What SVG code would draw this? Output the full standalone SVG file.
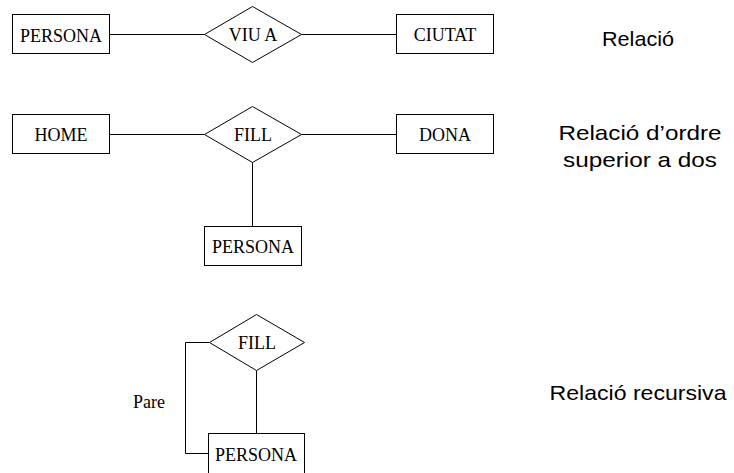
<svg xmlns="http://www.w3.org/2000/svg" width="734" height="473" viewBox="0 0 734 473">
  <style>
    .ent { fill: #ffffff; stroke: #000000; stroke-width: 1; }
    .rel { fill: #ffffff; stroke: #000000; stroke-width: 1; }
    .lbl { font-family: "Liberation Serif", "Times New Roman", serif; font-size: 18px; fill: #000000; text-anchor: middle; }
    .note { font-family: "Liberation Sans", Arial, sans-serif; font-size: 21px; fill: #000000; text-anchor: middle; }
    .conn { fill: none; stroke: #000000; stroke-width: 1; }
  </style>
  <rect width="734" height="473" fill="#ffffff"/>

  <!-- connectors -->
  <g id="connectors">
    <line class="conn" x1="109.5" y1="34.5" x2="204.5" y2="34.5"/>
    <line class="conn" x1="301.5" y1="34.5" x2="396.5" y2="34.5"/>
    <line class="conn" x1="109.5" y1="134.5" x2="204.5" y2="134.5"/>
    <line class="conn" x1="301.5" y1="134.5" x2="396.5" y2="134.5"/>
    <line class="conn" x1="252.5" y1="162.5" x2="252.5" y2="226.5"/>
    <line class="conn" x1="256.5" y1="370.5" x2="256.5" y2="433.5"/>
    <polyline class="conn" points="209.5,342.5 185.5,342.5 185.5,453.5 208.5,453.5"/>
  </g>

  <!-- binary relationship -->
  <g id="persona1">
    <rect class="ent" x="12.5" y="14.5" width="97" height="39"/>
    <text class="lbl" x="61" y="42">PERSONA</text>
  </g>
  <g id="viu-a">
    <polygon class="rel" points="252.5,6.5 301.5,34.5 252.5,62.5 204.5,34.5"/>
    <text class="lbl" x="253" y="41">VIU A</text>
  </g>
  <g id="ciutat">
    <rect class="ent" x="396.5" y="14.5" width="97" height="39"/>
    <text class="lbl" x="445" y="41">CIUTAT</text>
  </g>

  <!-- ternary relationship -->
  <g id="home">
    <rect class="ent" x="12.5" y="114.5" width="97" height="39"/>
    <text class="lbl" x="61" y="141">HOME</text>
  </g>
  <g id="fill1">
    <polygon class="rel" points="252.5,106.5 301.5,134.5 252.5,162.5 204.5,134.5"/>
    <text class="lbl" x="253" y="141">FILL</text>
  </g>
  <g id="dona">
    <rect class="ent" x="396.5" y="114.5" width="97" height="39"/>
    <text class="lbl" x="445" y="141">DONA</text>
  </g>
  <g id="persona2">
    <rect class="ent" x="204.5" y="226.5" width="97" height="39"/>
    <text class="lbl" x="253" y="253">PERSONA</text>
  </g>

  <!-- recursive relationship -->
  <g id="fill2">
    <polygon class="rel" points="256.5,314.5 304.5,342.5 256.5,370.5 209.5,342.5"/>
    <text class="lbl" x="257" y="349">FILL</text>
  </g>
  <g id="persona3">
    <rect class="ent" x="208.5" y="433.5" width="96" height="45"/>
    <text class="lbl" x="256" y="461">PERSONA</text>
  </g>
  <text id="pare" x="133" y="408" font-family="Liberation Serif, Times New Roman, serif" font-size="18" fill="#000000">Pare</text>

  <!-- side notes -->
  <g id="notes">
    <text class="note" x="638" y="46" textLength="72" lengthAdjust="spacingAndGlyphs">Relació</text>
    <text class="note" x="640" y="140" textLength="163" lengthAdjust="spacingAndGlyphs">Relació d’ordre</text>
    <text class="note" x="640" y="167" textLength="154" lengthAdjust="spacingAndGlyphs">superior a dos</text>
    <text class="note" x="638" y="400" textLength="177" lengthAdjust="spacingAndGlyphs">Relació recursiva</text>
  </g>
</svg>
